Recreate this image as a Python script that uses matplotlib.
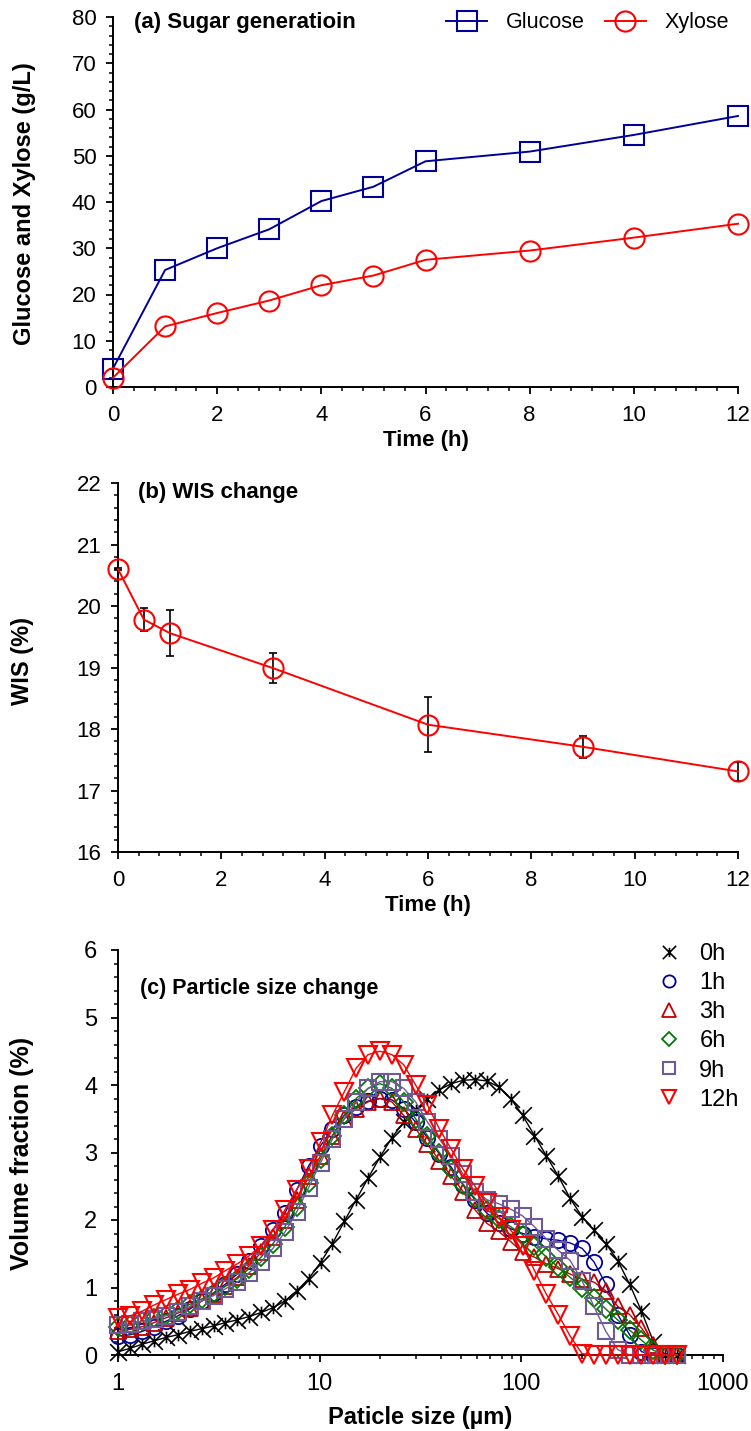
import matplotlib
matplotlib.use("Agg")
import matplotlib.pyplot as plt
from matplotlib.path import Path
from matplotlib.lines import Line2D
from matplotlib.ticker import MultipleLocator, LogLocator, NullFormatter, FixedLocator, FixedFormatter

# ---- (a) sugar generation ----
time_sugar = [0, 1, 2, 3, 4, 5, 6, 8, 10, 12]
glucose = [4.0, 25.3, 30.0, 34.1, 40.2, 43.3, 48.8, 50.9, 54.5, 58.6]
xylose = [2.0, 13.1, 16.0, 18.7, 22.0, 24.1, 27.5, 29.5, 32.3, 35.3]

# ---- (b) WIS ----
time_wis = [0, 0.5, 1, 3, 6, 9, 12]
wis = [20.6, 19.78, 19.56, 18.99, 18.07, 17.71, 17.31]
wis_err = [0.01, 0.18, 0.37, 0.24, 0.45, 0.18, 0.16]

# ---- (c) particle size distribution ----
size_um = [1.005, 1.151, 1.318, 1.510, 1.729, 1.981, 2.269, 2.599, 2.976, 3.409,
           3.905, 4.472, 5.122, 5.867, 6.720, 7.697, 8.816, 10.10, 11.57, 13.25,
           15.17, 17.38, 19.90, 22.80, 26.11, 29.91, 34.25, 39.23, 44.94, 51.47,
           58.95, 67.52, 77.34, 88.58, 101.5, 116.2, 133.1, 152.5, 174.6, 200.0,
           229.1, 262.4, 300.5, 344.2, 394.2, 451.6, 517.2, 592.4]
vol_0h = [0.05, 0.10, 0.16, 0.21, 0.26, 0.30, 0.35, 0.39, 0.43, 0.48,
          0.52, 0.57, 0.63, 0.70, 0.80, 0.95, 1.13, 1.37, 1.65, 1.98,
          2.30, 2.62, 2.93, 3.22, 3.45, 3.63, 3.80, 3.93, 4.02, 4.07,
          4.08, 4.06, 3.97, 3.80, 3.55, 3.25, 2.95, 2.65, 2.32, 2.05,
          1.85, 1.65, 1.40, 1.05, 0.65, 0.20, 0.0, 0.0]
vol_1h = [0.28, 0.30, 0.35, 0.42, 0.50, 0.58, 0.68, 0.80, 0.92, 1.05,
          1.20, 1.40, 1.62, 1.85, 2.10, 2.45, 2.80, 3.10, 3.35, 3.55,
          3.68, 3.76, 3.80, 3.78, 3.65, 3.45, 3.22, 2.98, 2.78, 2.52,
          2.30, 2.10, 1.96, 1.87, 1.80, 1.75, 1.72, 1.70, 1.66, 1.58,
          1.38, 1.05, 0.60, 0.30, 0.05, 0.0, 0.0, 0.0]
vol_3h = [0.35, 0.38, 0.42, 0.48, 0.55, 0.62, 0.70, 0.80, 0.90, 1.02,
          1.15, 1.32, 1.52, 1.75, 2.00, 2.30, 2.65, 2.95, 3.25, 3.50,
          3.65, 3.75, 3.80, 3.75, 3.55, 3.35, 3.12, 2.88, 2.65, 2.42,
          2.15, 1.95, 1.83, 1.68, 1.52, 1.45, 1.35, 1.28, 1.20, 1.12,
          1.08, 0.95, 0.72, 0.60, 0.40, 0.15, 0.0, 0.0]
vol_6h = [0.42, 0.45, 0.50, 0.55, 0.60, 0.67, 0.75, 0.83, 0.92, 1.02,
          1.13, 1.28, 1.45, 1.65, 1.90, 2.20, 2.55, 2.90, 3.25, 3.55,
          3.80, 3.95, 4.02, 3.95, 3.75, 3.50, 3.25, 3.00, 2.75, 2.52,
          2.32, 2.15, 2.02, 1.90, 1.78, 1.62, 1.45, 1.30, 1.15, 1.00,
          0.85, 0.68, 0.52, 0.37, 0.22, 0.07, 0.0, 0.0]
vol_9h = [0.45, 0.46, 0.50, 0.54, 0.58, 0.64, 0.72, 0.80, 0.88, 0.98,
          1.08, 1.22, 1.38, 1.58, 1.82, 2.12, 2.48, 2.85, 3.20, 3.50,
          3.75, 3.95, 4.05, 4.05, 3.95, 3.75, 3.45, 3.20, 2.95, 2.68,
          2.42, 2.30, 2.24, 2.16, 2.06, 1.90, 1.72, 1.55, 1.40, 1.10,
          0.72, 0.35, 0.08, 0.0, 0.0, 0.0, 0.0, 0.0]
vol_12h = [0.55, 0.58, 0.65, 0.74, 0.82, 0.90, 0.97, 1.06, 1.14, 1.25,
           1.35, 1.47, 1.62, 1.85, 2.15, 2.45, 2.75, 3.15, 3.55, 3.90,
           4.25, 4.45, 4.50, 4.45, 4.30, 4.00, 3.70, 3.35, 3.05, 2.75,
           2.50, 2.25, 2.05, 1.85, 1.62, 1.25, 0.90, 0.60, 0.28, 0.02,
           0.0, 0.0, 0.0, 0.0, 0.0, 0.0, 0.0, 0.0]
psd_labels = ["0h", "1h", "3h", "6h", "9h", "12h"]

plt.rcParams["font.family"] = ["Liberation Sans", "DejaVu Sans"]

BLUE = "#000099"
RED = "#FF0000"

# Excel-style "star": an X with a vertical bar through it
star = Path([(-1, -1), (1, 1), (-1, 1), (1, -1), (0, -0.7), (0, 0.7)],
            [Path.MOVETO, Path.LINETO] * 3)

fig = plt.figure(figsize=(7.51, 14.31), dpi=100)
W, H = 751, 1431


def add_axes(x0, x1, y_top, y_bot):
    return fig.add_axes([x0 / W, 1 - y_bot / H, (x1 - x0) / W, (y_bot - y_top) / H])


def style_axis(ax, size, xpad, ypad):
    for side in ("top", "right"):
        ax.spines[side].set_visible(False)
    for side in ("left", "bottom"):
        ax.spines[side].set_linewidth(1.4)
    ax.tick_params(which="major", direction="out", length=5, width=1.3, labelsize=size)
    ax.tick_params(which="minor", direction="out", length=3, width=1.1)
    ax.tick_params(axis="x", which="major", pad=xpad)
    ax.tick_params(axis="y", which="major", pad=ypad)


def ylabel(text, x_px, y_px, size):
    fig.text(x_px / W, 1 - y_px / H, text, rotation=90, ha="center", va="center",
             fontsize=size, fontweight="bold")


# ---------------- (a) ----------------
ax1 = add_axes(113, 738, 17, 387)
ax1.plot(time_sugar, glucose, color=BLUE, lw=1.4, marker="s", ms=14, mfc="none",
         mec=BLUE, mew=1.5, clip_on=False, label="Glucose", zorder=3)
ax1.plot(time_sugar, xylose, color=RED, lw=1.4, marker="o", ms=14.5, mfc="none",
         mec=RED, mew=1.5, clip_on=False, label="Xylose", zorder=3)
ax1.set_xlim(0, 12)
ax1.set_ylim(0, 80)
ax1.xaxis.set_major_locator(MultipleLocator(2))
ax1.xaxis.set_minor_locator(MultipleLocator(0.4))
ax1.yaxis.set_major_locator(MultipleLocator(10))
ax1.yaxis.set_minor_locator(MultipleLocator(2))
style_axis(ax1, 16, 8, 7)
ax1.set_xlabel("Time (h)", fontsize=16, fontweight="bold", labelpad=3)
ylabel("Glucose and Xylose (g/L)", 25, 204, 17)
ax1.text(0.033, 0.985, "(a) Sugar generatioin", transform=ax1.transAxes, fontsize=16,
         fontweight="bold", va="center", ha="left")
ax1.legend(loc="center right", bbox_to_anchor=(1.0, 0.985), ncol=2, frameon=False,
           fontsize=15.5, handlelength=1.9, handletextpad=0.9, columnspacing=0.9,
           borderaxespad=0)

# ---------------- (b) ----------------
ax2 = add_axes(118, 738, 483, 852)
ax2.errorbar(time_wis, wis, yerr=wis_err, fmt="none", ecolor="black", elinewidth=1.2,
             capsize=3, capthick=1.2, zorder=2, clip_on=False)
ax2.plot(time_wis, wis, color=RED, lw=1.4, marker="o", ms=14.5, mfc="none", mec=RED,
         mew=1.5, clip_on=False, zorder=3)
ax2.set_xlim(0, 12)
ax2.set_ylim(16, 22)
ax2.xaxis.set_major_locator(MultipleLocator(2))
ax2.xaxis.set_minor_locator(MultipleLocator(0.4))
ax2.yaxis.set_major_locator(MultipleLocator(1))
ax2.yaxis.set_minor_locator(MultipleLocator(0.2))
style_axis(ax2, 16, 8, 7)
ax2.set_xlabel("Time (h)", fontsize=16, fontweight="bold", labelpad=3)
ylabel("WIS (%)", 23, 661, 17)
ax2.text(0.033, 0.973, "(b) WIS change", transform=ax2.transAxes, fontsize=16,
         fontweight="bold", va="center", ha="left")

# ---------------- (c) ----------------
ax3 = add_axes(118, 723, 950, 1355)
psd = [
    (vol_0h, "black", star, 12, 1.2),
    (vol_1h, "#000099", "o", 11, 1.3),
    (vol_3h, "#C00000", "^", 12, 1.3),
    (vol_6h, "#007A00", "D", 9, 1.3),
    (vol_9h, "#6E5A99", "s", 11, 1.5),
    (vol_12h, "#FF0000", "v", 12.5, 1.5),
]
handles = []
for (vals, col, mk, ms, mew), lab in zip(psd, psd_labels):
    ax3.plot(size_um, vals, color=col, lw=1.0, marker=mk, ms=ms, mfc="none", mec=col,
             mew=mew, clip_on=False, zorder=3)
    handles.append(Line2D([], [], ls="none", marker=mk, ms=ms * 0.8, mfc="none",
                          mec=col, mew=mew, color=col, label=lab))
ax3.set_xscale("log")
ax3.set_xlim(1, 1000)
ax3.set_ylim(0, 6)
ax3.xaxis.set_major_locator(FixedLocator([1, 10, 100, 1000]))
ax3.xaxis.set_major_formatter(FixedFormatter(["1", "10", "100", "1000"]))
ax3.xaxis.set_minor_locator(LogLocator(base=10, subs=range(2, 10)))
ax3.xaxis.set_minor_formatter(NullFormatter())
ax3.yaxis.set_major_locator(MultipleLocator(1))
ax3.yaxis.set_minor_locator(MultipleLocator(0.2))
style_axis(ax3, 17, 8, 10)
ax3.set_xlabel("Paticle size (\u00b5m)", fontsize=17, fontweight="bold", labelpad=8)
ylabel("Volume fraction (%)", 22, 1153, 18)
ax3.text(0.037, 0.906, "(c) Particle size change", transform=ax3.transAxes, fontsize=15.5,
         fontweight="bold", va="center", ha="left")
ax3.legend(handles=handles, loc="upper left", bbox_to_anchor=(0.875, 1.04), frameon=False,
           fontsize=17, handlelength=1.0, handletextpad=0.8, labelspacing=0.3,
           borderaxespad=0)

fig.savefig("out.png", dpi=100)
